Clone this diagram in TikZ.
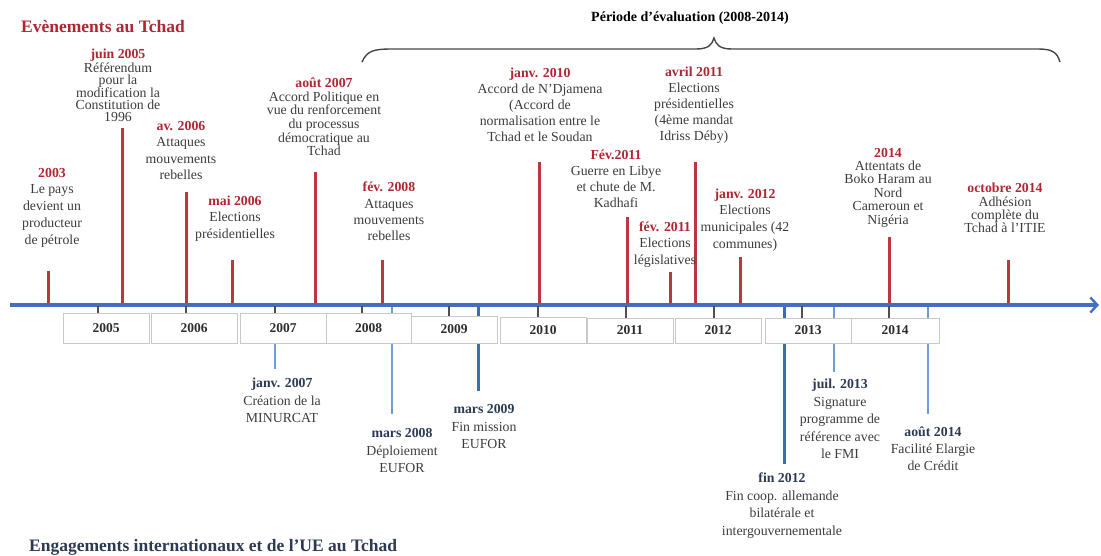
\documentclass[tikz,border=0pt]{standalone}
\usepackage{fontspec}
\setmainfont{Liberation Serif}
\usetikzlibrary{arrows.meta}

\definecolor{evred}{RGB}{176,38,50}
\definecolor{linered}{RGB}{186,56,62}
\definecolor{axisblue}{RGB}{66,112,190}
\definecolor{ueblue}{RGB}{112,156,214}
\definecolor{uedark}{RGB}{62,108,176}
\definecolor{uetext}{RGB}{44,58,84}
\definecolor{bodygray}{RGB}{60,60,60}
\definecolor{boxgray}{RGB}{200,200,200}
\definecolor{yeargray}{RGB}{45,45,45}
\definecolor{tickgray}{RGB}{80,80,80}
\definecolor{bracegray}{RGB}{70,70,70}

\newcommand\evdate[1]{{\bfseries\color{evred}#1}}
\newcommand\uedate[1]{{\bfseries\color{uetext}#1}}

\begin{document}
\begin{tikzpicture}[x=1pt,y=-1pt,
  evt/.style={align=center,inner sep=0pt,text=bodygray,font=\fontsize{13.8}{#1}\selectfont},
  evt/.default=16,
  redbar/.style={draw=linered,line width=3pt},
  uebar/.style={draw=ueblue,line width=2.4pt},
  uebarstrong/.style={draw=uedark,line width=3pt},
  axisline/.style={draw=axisblue,line width=3pt},
  yeartick/.style={draw=tickgray,line width=1.4pt},
  yearbox/.style={draw=boxgray,line width=1pt,fill=white,minimum width=86pt,
    inner sep=0pt,text=yeargray,font=\fontsize{13.5}{14}\selectfont\bfseries},
  heading/.style={inner sep=0pt,font=\fontsize{17.5}{20}\selectfont\bfseries},
]
\useasboundingbox (0,0) rectangle (1101,556);

% ---------- headings ----------
\node[heading,text=evred,anchor=west] (hEv) at (21,27) {Evènements au Tchad};
\node[heading,text=uetext,anchor=west] (hUE) at (29,547) {Engagements internationaux et de l'UE au Tchad};
\node[inner sep=0pt,font=\fontsize{14}{16}\selectfont\bfseries] (hPer) at (690,18) {Période d’évaluation (2008-2014)};

% brace over the evaluation period
\draw[bracegray,line width=1.4pt]
  (362,62) .. controls (367,51) and (373,49) .. (392,49) -- (696,49)
  .. controls (708,49) and (712,45) .. (714,38)
  .. controls (716,45) and (720,49) .. (732,49) -- (1038,49)
  .. controls (1052,49) and (1057,52) .. (1060,62);

% ---------- event bars above the axis ----------
\coordinate (b03) at (48,305);   \coordinate (t03) at (48,271);
\coordinate (b05) at (122,305);  \coordinate (t05) at (122,128);
\coordinate (b06a) at (186,305); \coordinate (t06a) at (186,192);
\coordinate (b06m) at (232,305); \coordinate (t06m) at (232,260);
\coordinate (b07) at (315,305);  \coordinate (t07) at (315,172);
\coordinate (b08) at (382,305);  \coordinate (t08) at (382,260);
\coordinate (b10) at (539,305);  \coordinate (t10) at (539,162);
\coordinate (b11g) at (627,305); \coordinate (t11g) at (627,217);
\coordinate (b11l) at (670,305); \coordinate (t11l) at (670,272);
\coordinate (b11p) at (695,305); \coordinate (t11p) at (695,162);
\coordinate (b12) at (740,305);  \coordinate (t12) at (740,257);
\coordinate (b14) at (889,305);  \coordinate (t14) at (889,237);
\coordinate (b14o) at (1008,305);\coordinate (t14o) at (1008,260);

\foreach \e in {03,05,06a,06m,07,08,10,11g,11l,11p,12,14,14o}
  \draw[redbar] (b\e) -- (t\e);

% ---------- commitment bars below the axis ----------
\coordinate (u07a) at (275,305); \coordinate (u07b) at (275,369);
\coordinate (u08a) at (392,305); \coordinate (u08b) at (392,414);
\coordinate (u09a) at (478,305); \coordinate (u09b) at (478,391);
\coordinate (u12a) at (784,305); \coordinate (u12b) at (784,464);
\coordinate (u13a) at (834,305); \coordinate (u13b) at (834,372);
\coordinate (u14a) at (928,305); \coordinate (u14b) at (928,414);

\draw[uebar] (u07a) -- (u07b);
\draw[uebar] (u08a) -- (u08b);
\draw[uebarstrong] (u09a) -- (u09b);
\draw[uebarstrong] (u12a) -- (u12b);
\draw[uebar] (u13a) -- (u13b);
\draw[uebar] (u14a) -- (u14b);

% ---------- time axis ----------
\coordinate (axL) at (10,305);
\coordinate (axR) at (1099,305);
\draw[axisline,-{Straight Barb[length=7pt,width=15pt,line width=2.4pt]}] (axL) -- (axR);

\foreach \x in {98,186,275,362,449,538,626,714,802,889}
  \draw[yeartick] (\x,306) -- (\x,318);

% ---------- year boxes ----------
\node[yearbox,minimum height=30pt] (y2005) at (106,328) {2005};
\node[yearbox,minimum height=30pt] (y2006) at (194,328) {2006};
\node[yearbox,minimum height=30pt] (y2007) at (283,328) {2007};
\node[yearbox,minimum height=30pt,minimum width=85pt] (y2008) at (368.5,328) {2008};
\node[yearbox,minimum height=27pt] (y2009) at (454,329.5) {2009};
\node[yearbox,minimum height=26pt] (y2010) at (543,330) {2010};
\node[yearbox,minimum height=25pt] (y2011) at (630,330.5) {2011};
\node[yearbox,minimum height=25pt] (y2012) at (718,330.5) {2012};
\node[yearbox,minimum height=25pt] (y2013) at (808,330.5) {2013};
\node[yearbox,minimum height=25pt,minimum width=88pt] (y2014) at (895,330.5) {2014};

% ---------- event texts ----------
\node[evt=16.75] (e03) at (52,207.5) {\evdate{2003}\\Le pays\\devient un\\producteur\\de pétrole};
\node[evt=11.8] (e05) at (118,85.5) {\evdate{juin 2005}\\Référendum\\pour la\\modification la\\Constitution de\\1996};
\node[evt=16.3] (e06a) at (181,150.5) {\evdate{av. 2006}\\Attaques\\mouvements\\rebelles};
\node[evt=16.5] (e06m) at (235,218.5) {\evdate{mai 2006}\\Elections\\présidentielles};
\node[evt=13.6] (e07) at (324,117) {\evdate{août 2007}\\Accord Politique en\\vue du renforcement\\du processus\\démocratique au\\Tchad};
\node[evt=16.3] (e08) at (389,211.5) {\evdate{fév. 2008}\\Attaques\\mouvements\\rebelles};
\node[evt=16] (e10) at (540,105) {\evdate{janv. 2010}\\Accord de N’Djamena\\(Accord de\\normalisation entre le\\Tchad et le Soudan};
\node[evt=16] (e11p) at (694,105) {\evdate{avril 2011}\\Elections\\présidentielles\\(4ème mandat\\Idriss Déby)};
\node[evt=16] (e11g) at (616,179) {\evdate{Fév.2011}\\Guerre en Libye\\et chute de M.\\Kadhafi};
\node[evt=16.5] (e11l) at (665,244.5) {\evdate{fév. 2011}\\Elections\\législatives};
\node[evt=16.7] (e12) at (745,220) {\evdate{janv. 2012}\\Elections\\municipales (42\\communes)};
\node[evt=13.4] (e14) at (888,187.5) {\evdate{2014}\\Attentats de\\Boko Haram au\\Nord\\Cameroun et\\Nigéria};
\node[evt=13.3] (e14o) at (1005,208) {\evdate{octobre 2014}\\Adhésion\\complète du\\Tchad à l'ITIE};

% ---------- commitment texts ----------
\node[evt=17.5] (c07) at (282,400.5) {\uedate{janv. 2007}\\Création de la\\MINURCAT};
\node[evt=17.5] (c08) at (402,450.5) {\uedate{mars 2008}\\Déploiement\\EUFOR};
\node[evt=17.5] (c09) at (484,426.5) {\uedate{mars 2009}\\Fin mission\\EUFOR};
\node[evt=17.7] (c12) at (782,505.5) {\uedate{fin 2012}\\Fin coop. allemande\\bilatérale et\\intergouvernementale};
\node[evt=17.5] (c13) at (840,419) {\uedate{juil. 2013}\\Signature\\programme de\\référence avec\\le FMI};
\node[evt=17] (c14) at (933,449) {\uedate{août 2014}\\Facilité Elargie\\de Crédit};

\end{tikzpicture}
\end{document}
